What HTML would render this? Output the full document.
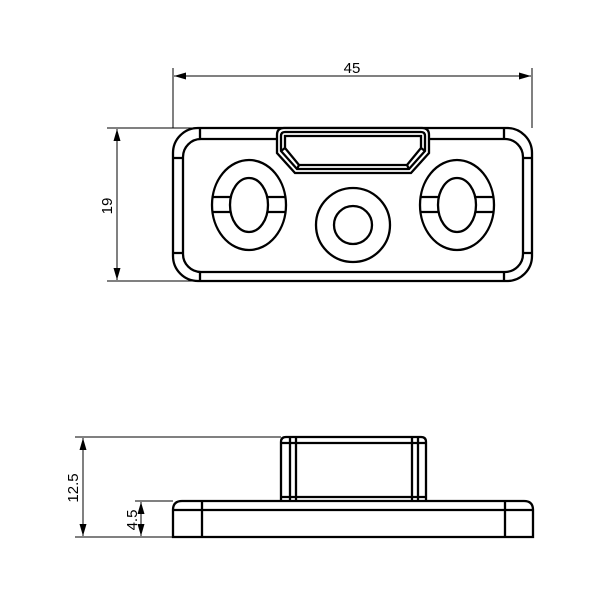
<!DOCTYPE html>
<html><head><style>body{margin:0;background:#fff}svg{display:block}</style></head><body>
<svg width="600" height="600" viewBox="0 0 600 600" xmlns="http://www.w3.org/2000/svg">
<defs><marker id="a" viewBox="0 0 12 10" refX="12" refY="5" markerWidth="12" markerHeight="10" markerUnits="userSpaceOnUse" orient="auto-start-reverse"><path d="M0,1.5 L12,5 L0,8.5 z" fill="#000"/></marker></defs>
<g fill="none" stroke="#000" stroke-width="1">
<line x1="173" y1="68" x2="173" y2="128"/><line x1="532" y1="68" x2="532" y2="128"/>
<line x1="174" y1="76" x2="531" y2="76" marker-start="url(#a)" marker-end="url(#a)"/>
<line x1="107" y1="128" x2="200" y2="128"/><line x1="107" y1="281" x2="200" y2="281"/>
<line x1="117" y1="129" x2="117" y2="280" marker-start="url(#a)" marker-end="url(#a)"/>
</g>
<g fill="none" stroke="#000" stroke-width="2.3">
<rect x="173" y="128" width="359" height="153" rx="25"/>
<rect x="183" y="139" width="340" height="133" rx="18"/>
<path d="M200 128V139M504 128V139M200 272V281M504 272V281M173 158H183M173 253H183M523 158H532M523 253H532"/>
<path d="M277 153V135Q277 128 284 128H422Q429 128 429 135V153L411 173H295Z" fill="#fff"/>
<path d="M281 151V136Q281 132 285 132H421Q425 132 425 136V151L409 169H297Z"/>
<path d="M285 148V136H421V148L407 165H299Z"/>
<path d="M281 151L285 148M425 151L421 148M297 169L299 165M409 169L407 165"/>
<ellipse cx="249" cy="205" rx="37" ry="45"/><ellipse cx="249" cy="205" rx="19" ry="27"/>
<ellipse cx="457" cy="205" rx="37" ry="45"/><ellipse cx="457" cy="205" rx="19" ry="27"/>
<path d="M212 197H230M212 212H230M268 197H286M268 212H286M420 197H438M420 212H438M476 197H494M476 212H494"/>
<circle cx="353" cy="225" r="37"/><circle cx="353" cy="225" r="19"/>
<path d="M281 501V442Q281 437 286 437H421Q426 437 426 442V501"/>
<path d="M290 437V501M296 437V501M412 437V501M418 437V501M281 443H426M281 497H426"/>
<path d="M173 537V510Q173 501 182 501H524Q533 501 533 510V537Z"/>
<path d="M173 510H533M202 501V537M505 501V537"/>
</g>
<g fill="none" stroke="#000" stroke-width="1">
<line x1="75" y1="437" x2="281" y2="437"/><line x1="75" y1="537" x2="173" y2="537"/>
<line x1="135" y1="501" x2="173" y2="501"/>
<line x1="83" y1="438" x2="83" y2="536" marker-start="url(#a)" marker-end="url(#a)"/>
<line x1="141" y1="502" x2="141" y2="536" marker-start="url(#a)" marker-end="url(#a)"/>
</g>
<g font-family="Liberation Sans, sans-serif" font-size="15" fill="#000">
<text x="352" y="73" text-anchor="middle">45</text>
<text transform="translate(112,206) rotate(-90)" text-anchor="middle">19</text>
<text transform="translate(78,488) rotate(-90)" text-anchor="middle">12.5</text>
<text transform="translate(137,520) rotate(-90)" text-anchor="middle">4.5</text>
</g>
</svg>
</body></html>
